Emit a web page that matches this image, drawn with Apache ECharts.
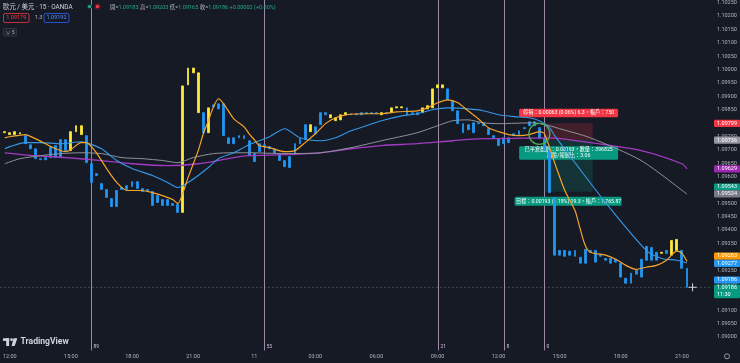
<!DOCTYPE html>
<html><head><meta charset="utf-8">
<script src="https://cdn.jsdelivr.net/npm/echarts@6/dist/echarts.min.js"></script>
<style>html,body{margin:0;padding:0;background:#161a25;overflow:hidden}#c{width:740px;height:363px}</style>
</head><body><div id="c"></div>
<script>
// ---- data ----
const startMinutes = 11 * 60 + 45; // first slot 11:45 (day 10)
const slotCount = 139;
const categories = [];
for (let k = 0; k < slotCount; k++) {
  const m = (startMinutes + 15 * k) % 1440;
  categories.push(String(Math.floor(m / 60)).padStart(2, '0') + ':' + String(m % 60).padStart(2, '0'));
}
const tickTimes = ['12:00', '15:00', '18:00', '21:00', '00:00', '03:00', '06:00', '09:00'];
const dayLabel = '11';

// [open, close, low, high]
const candles = [
[1.09764,1.09768,1.09760,1.09771],[1.09757,1.09764,1.09753,1.09768],[1.09757,1.09768,1.09753,1.09771],[1.09760,1.09764,1.09757,1.09768],
[1.09753,1.09723,1.09719,1.09760],[1.09719,1.09704,1.09697,1.09727],[1.09704,1.09667,1.09660,1.09712],[1.09667,1.09663,1.09630,1.09678],
[1.09671,1.09663,1.09637,1.09686],[1.09712,1.09671,1.09660,1.09719],[1.09716,1.09671,1.09660,1.09734],[1.09738,1.09671,1.09663,1.09745],
[1.09738,1.09697,1.09689,1.09745],[1.09697,1.09768,1.09689,1.09816],[1.09768,1.09790,1.09760,1.09812],[1.09757,1.09790,1.09749,1.09827],
[1.09753,1.09652,1.09645,1.09760],[1.09648,1.09578,1.09566,1.09656],[1.09611,1.09604,1.09574,1.09622],[1.09574,1.09552,1.09544,1.09581],
[1.09552,1.09522,1.09511,1.09585],[1.09518,1.09488,1.09473,1.09529],[1.09548,1.09488,1.09481,1.09555],[1.09559,1.09552,1.09522,1.09585],
[1.09566,1.09552,1.09544,1.09574],[1.09581,1.09563,1.09555,1.09607],[1.09581,1.09555,1.09548,1.09604],[1.09555,1.09544,1.09518,1.09563],
[1.09552,1.09544,1.09522,1.09559],[1.09544,1.09492,1.09485,1.09552],[1.09529,1.09503,1.09473,1.09537],[1.09514,1.09492,1.09470,1.09522],
[1.09514,1.09492,1.09485,1.09522],[1.09499,1.09492,1.09473,1.09507],[1.09496,1.09466,1.09417,1.09503],[1.09466,1.09939,1.09462,1.09947],
[1.09943,1.10006,1.09935,1.10058],[1.09988,1.10006,1.09902,1.10062],[1.09839,1.09988,1.09831,1.09995],[1.09839,1.09764,1.09757,1.09846],
[1.09764,1.09857,1.09757,1.09894],[1.09868,1.09861,1.09853,1.09894],[1.09872,1.09853,1.09846,1.10070],[1.09872,1.09753,1.09745,1.09880],
[1.09745,1.09723,1.09648,1.09757],[1.09745,1.09723,1.09716,1.09753],[1.09753,1.09745,1.09738,1.09790],[1.09753,1.09742,1.09734,1.09760],
[1.09734,1.09678,1.09671,1.09742],[1.09686,1.09656,1.09648,1.09697],[1.09723,1.09693,1.09686,1.09734],[1.09719,1.09712,1.09697,1.09742],
[1.09712,1.09704,1.09697,1.09719],[1.09704,1.09689,1.09682,1.09712],[1.09686,1.09660,1.09652,1.09693],[1.09660,1.09637,1.09630,1.09667],
[1.09675,1.09634,1.09626,1.09682],[1.09723,1.09682,1.09675,1.09730],[1.09742,1.09723,1.09716,1.09749],[1.09794,1.09738,1.09730,1.09801],
[1.09768,1.09794,1.09760,1.09801],[1.09786,1.09760,1.09753,1.09794],[1.09839,1.09794,1.09786,1.09853],[1.09839,1.09831,1.09824,1.09883],
[1.09820,1.09831,1.09812,1.09839],[1.09809,1.09820,1.09801,1.09835],[1.09812,1.09831,1.09805,1.09839],[1.09831,1.09839,1.09824,1.09853],
[1.09835,1.09831,1.09824,1.09842],[1.09835,1.09831,1.09790,1.09842],[1.09839,1.09831,1.09824,1.09846],[1.09839,1.09835,1.09827,1.09846],
[1.09839,1.09835,1.09827,1.09846],[1.09839,1.09835,1.09827,1.09857],[1.09831,1.09839,1.09824,1.09846],[1.09839,1.09835,1.09827,1.09846],
[1.09839,1.09857,1.09831,1.09865],[1.09857,1.09861,1.09850,1.09872],[1.09857,1.09861,1.09850,1.09868],[1.09857,1.09831,1.09824,1.09865],
[1.09839,1.09835,1.09827,1.09846],[1.09839,1.09831,1.09824,1.09846],[1.09839,1.09857,1.09831,1.09887],[1.09853,1.09865,1.09846,1.09883],
[1.09857,1.09928,1.09850,1.09935],[1.09932,1.09943,1.09924,1.09950],[1.09932,1.09943,1.09924,1.09984],[1.09928,1.09887,1.09880,1.09935],
[1.09883,1.09846,1.09839,1.09891],[1.09846,1.09798,1.09790,1.09853],[1.09798,1.09764,1.09757,1.09805],[1.09794,1.09775,1.09757,1.09809],
[1.09801,1.09764,1.09757,1.09809],[1.09801,1.09798,1.09790,1.09809],[1.09801,1.09790,1.09783,1.09809],[1.09779,1.09757,1.09749,1.09786],
[1.09753,1.09745,1.09738,1.09760],[1.09742,1.09716,1.09708,1.09749],[1.09745,1.09723,1.09716,1.09753],[1.09745,1.09727,1.09719,1.09753],
[1.09760,1.09753,1.09745,1.09768],[1.09771,1.09757,1.09749,1.09779],[1.09783,1.09779,1.09771,1.09790],[1.09805,1.09790,1.09783,1.09812],
[1.09805,1.09790,1.09783,1.09812],[1.09783,1.09742,1.09734,1.09790],[1.09742,1.09697,1.09689,1.09749],[1.09697,1.09540,1.09533,1.09704],
[1.09522,1.09306,1.09287,1.09529],[1.09324,1.09306,1.09242,1.09361],[1.09324,1.09302,1.09280,1.09343],[1.09321,1.09306,1.09276,1.09354],
[1.09324,1.09302,1.09268,1.09388],[1.09298,1.09276,1.09183,1.09306],[1.09328,1.09276,1.09239,1.09361],[1.09324,1.09317,1.09306,1.09343],
[1.09324,1.09280,1.09268,1.09350],[1.09309,1.09302,1.09294,1.09324],[1.09294,1.09287,1.09250,1.09324],[1.09294,1.09276,1.09268,1.09306],
[1.09291,1.09280,1.09272,1.09298],[1.09276,1.09224,1.09212,1.09283],[1.09220,1.09201,1.09194,1.09227],[1.09239,1.09201,1.09183,1.09250],
[1.09250,1.09235,1.09227,1.09257],[1.09291,1.09224,1.09216,1.09298],[1.09339,1.09287,1.09280,1.09347],[1.09335,1.09287,1.09261,1.09388],
[1.09317,1.09287,1.09280,1.09324],[1.09313,1.09317,1.09306,1.09324],[1.09324,1.09313,1.09306,1.09332],[1.09306,1.09361,1.09294,1.09481],
[1.09324,1.09365,1.09306,1.09428],[1.09324,1.09257,1.09250,1.09335],[1.09257,1.09186,1.09131,1.09265]
];

// moving averages: [bar index, price]
const maOrange = [[0,1.09745],[1,1.09749],[4,1.09757],[6,1.09742],[8,1.09723],[10,1.09704],[12,1.09693],[13,1.09701],[15,1.09727],[16,1.09727],[18,1.09689],[20,1.09630],[22,1.09578],[24,1.09548],[27,1.09548],[29,1.09540],[31,1.09529],[33,1.09514],[34,1.09499],[35,1.09540],[36,1.09596],[38,1.09697],[39,1.09760],[40,1.09809],[41,1.09861],[42,1.09891],[43,1.09872],[45,1.09816],[47,1.09786],[48,1.09760],[49,1.09738],[50,1.09716],[52,1.09708],[55,1.09693],[57,1.09697],[59,1.09727],[61,1.09760],[63,1.09798],[65,1.09820],[67,1.09831],[71,1.09835],[74,1.09835],[77,1.09842],[81,1.09846],[83,1.09857],[85,1.09876],[87,1.09887],[89,1.09876],[91,1.09846],[93,1.09816],[95,1.09783],[97,1.09768],[99,1.09757],[101,1.09753],[103,1.09757],[105,1.09768],[106,1.09760],[108,1.09652],[110,1.09548],[112,1.09473],[113,1.09406],[114,1.09343],[115,1.09317],[118,1.09306],[120,1.09291],[122,1.09268],[124,1.09253],[126,1.09261],[128,1.09268],[130,1.09287],[132,1.09321],[133,1.09313],[134,1.09283]];
const maBlue = [[0,1.09704],[1,1.09712],[4,1.09727],[7,1.09727],[11,1.09723],[15,1.09730],[16,1.09727],[19,1.09704],[22,1.09660],[25,1.09630],[29,1.09604],[32,1.09578],[34,1.09559],[36,1.09578],[38,1.09604],[40,1.09634],[42,1.09667],[45,1.09689],[48,1.09719],[52,1.09749],[55,1.09779],[58,1.09745],[62,1.09734],[65,1.09745],[68,1.09771],[71,1.09790],[74,1.09809],[78,1.09827],[81,1.09835],[84,1.09850],[87,1.09857],[91,1.09853],[94,1.09846],[97,1.09831],[100,1.09824],[103,1.09820],[105,1.09809],[107,1.09783],[108,1.09753],[112,1.09652],[118,1.09503],[126,1.09324],[129,1.09294],[132,1.09287],[134,1.09277]];
const maGray = [[0,1.09648],[3,1.09667],[7,1.09678],[11,1.09686],[15,1.09689],[19,1.09686],[23,1.09671],[27,1.09667],[31,1.09660],[34,1.09652],[37,1.09671],[41,1.09686],[45,1.09689],[48,1.09689],[55,1.09686],[62,1.09689],[68,1.09708],[74,1.09734],[81,1.09764],[85,1.09790],[88,1.09809],[91,1.09812],[94,1.09801],[97,1.09798],[104,1.09801],[107,1.09790],[109,1.09779],[115,1.09745],[125,1.09660],[134,1.09534]];
const maPurple = [[0,1.09689],[6,1.09678],[12,1.09671],[19,1.09660],[25,1.09648],[32,1.09641],[38,1.09648],[45,1.09671],[48,1.09678],[55,1.09682],[62,1.09689],[68,1.09704],[74,1.09716],[81,1.09723],[88,1.09734],[94,1.09742],[97,1.09742],[107,1.09745],[115,1.09727],[125,1.09697],[133,1.09648],[134,1.09629]];

// Fibonacci time zones
const fibIndex = [17, 51, 85, 98, 106];
const fibLabels = ['89', '55', '21', '8', '0'];

// short position tool
const posStart = 106, posEnd = 115, circleIndex = 105, circlePrice = 1.09760;
const stopPrice = 1.09799, entryPrice = 1.09736, targetPrice = 1.09543;
const lastClose = candles[candles.length - 1][1];
const stopText = '停損：0.00063 (0.06%) 6.3，帳戶：750';
const closedText1 = '已平倉盈虧：0.00193，數量：396825';
const closedText2 = '風險/報酬比：3.06';
const targetText = '目標：0.00193 (0.18%) 19.3，帳戶：1,765.87';

// ---- chart ----
const FONT = "Roboto, 'Noto Sans CJK TC', sans-serif";
const YEL = '#ffeb3b', BLU = '#2196f3', WICK = '#6f727c';
const chart = echarts.init(document.getElementById('c'), null, {renderer: 'canvas', width: 740, height: 363});
const gridLeft = 1, slotW = 5.1;
chart.setOption({
  backgroundColor: '#161a25',
  animation: false,
  textStyle: {fontFamily: FONT},
  grid: {left: gridLeft, right: 740 - gridLeft - slotCount * slotW, top: 0, bottom: 12.6, containLabel: false},
  xAxis: {
    type: 'category', data: categories, boundaryGap: true,
    axisLine: {show: false}, axisTick: {show: false}, splitLine: {show: false},
    axisLabel: {
      color: '#b2b5be', fontSize: 5.5, margin: 3,
      interval: (idx, v) => tickTimes.includes(v),
      formatter: v => v === '00:00' ? dayLabel : v
    }
  },
  yAxis: {
    type: 'value', position: 'right', min: 1.0895, max: 1.102559, interval: 0.0005,
    axisLine: {show: false}, axisTick: {show: false}, splitLine: {show: false},
    axisLabel: {color: '#b2b5be', fontSize: 5.5, margin: 7, showMinLabel: false, showMaxLabel: false,
      formatter: v => v.toFixed(5)}
  },
  series: [
    {type: 'candlestick', name: 'wick', barWidth: 1, z: 2,
     data: candles.map(c => [c[2], c[3], c[2], c[3]]),
     itemStyle: {color: WICK, color0: WICK, borderColor: WICK, borderColor0: WICK, borderWidth: 0}},
    {type: 'candlestick', name: 'body', barWidth: 2.4, z: 3,
     data: candles.map(c => [c[0], c[1], Math.min(c[0], c[1]), Math.max(c[0], c[1])]),
     itemStyle: {color: YEL, color0: BLU, borderColor: YEL, borderColor0: BLU, borderWidth: 0.8}},
    {type: 'line', data: maPurple, showSymbol: false, smooth: 0.25, z: 4, lineStyle: {color: '#a23bc2', width: 1.3}},
    {type: 'line', data: maGray, showSymbol: false, smooth: 0.25, z: 4, lineStyle: {color: '#8f929b', width: 1}},
    {type: 'line', data: maBlue, showSymbol: false, smooth: 0.25, z: 5, lineStyle: {color: '#3597e6', width: 1.1}},
    {type: 'line', data: maOrange, showSymbol: false, smooth: 0.25, z: 6, lineStyle: {color: '#f5a42a', width: 1.2}}
  ]
});

const xOf = i => chart.convertToPixel({xAxisIndex: 0}, i);
const yOf = p => chart.convertToPixel({yAxisIndex: 0}, p);
const G = [];
const txt = (x, y, text, fill, size, align, z, extra) => G.push(Object.assign({
  type: 'text', z: z || 1, silent: true,
  style: {x, y, text, fill, font: size + 'px ' + FONT, align: align || 'left', textAlign: align || 'left',
          verticalAlign: 'middle', textVerticalAlign: 'middle'}
}, extra || {}));
const rect = (x, y, w, h, fill, z, r, stroke) => G.push({type: 'rect', z: z || 1, silent: true,
  shape: {x, y, width: w, height: h, r: r || 0}, style: {fill, stroke: stroke || null, lineWidth: stroke ? 0.8 : 0}});
const line = (x1, y1, x2, y2, stroke, w, dash, z) => G.push({type: 'line', z: z || 1, silent: true,
  shape: {x1, y1, x2, y2}, style: {stroke, lineWidth: w || 1, lineDash: dash || null}});

const plotRight = gridLeft + slotCount * slotW;
const plotBottom = yOf(1.0895);

// fib time zones
fibIndex.forEach((fi, k) => {
  const x = Math.round(xOf(fi)) + 0.5;
  line(x, 0, x, plotBottom, '#9a8aa6', 1, null, 1);
  txt(x + 2, plotBottom - 3.5, fibLabels[k], '#cdbfd8', 5, 'left', 1);
});

// crosshair price line
const yLast = yOf(lastClose);
line(0, yLast, plotRight, yLast, 'rgba(130,133,145,0.55)', 0.8, [2, 2], 1);

// position tool
const xL = xOf(posStart), xR = xOf(posEnd) + slotW / 2, xC = (xL + xR) / 2;
const yS = yOf(stopPrice), yE = yOf(entryPrice), yT = yOf(targetPrice);
rect(xL, yS, xR - xL, yE - yS, 'rgba(242,54,69,0.2)', 0);
rect(xL, yE, xR - xL, yT - yE, 'rgba(8,153,129,0.2)', 0);
rect(xC - 49.5, yS - 14.5, 99, 8.5, '#f23645', 1, 1.5);
txt(xC, yS - 10.2, stopText, '#ffffff', 5.2, 'center', 1);
rect(xC - 49.5, yE + 6, 99, 13.5, '#089981', 1, 1.5);
txt(xC, yE + 9.6, closedText1, '#ffffff', 5.2, 'center', 1);
txt(xC, yE + 15.8, closedText2, '#ffffff', 5.2, 'center', 1);
rect(xC - 54, yT + 5, 107, 9, '#089981', 1, 1.5);
txt(xC, yT + 9.6, targetText, '#ffffff', 5.2, 'center', 1);
G.push({type: 'circle', z: 20, silent: true, shape: {cx: xOf(circleIndex), cy: yOf(circlePrice), r: 10.5},
  style: {fill: null, stroke: '#4caf50', lineWidth: 1.3}});

// cursor cross
const xCur = xOf(candles.length) + 0.5;
line(xCur - 4, yLast, xCur + 4, yLast, '#d1d4dc', 1, null, 30);
line(xCur, yLast - 4, xCur, yLast + 4, '#d1d4dc', 1, null, 30);

// price scale tags
const tags = [
  {p: stopPrice, c: '#f23645', d: 0},
  {p: entryPrice, c: '#9598a1', d: 0},
  {p: maPurple[maPurple.length - 1][1], c: '#9c27b0', d: 0},
  {p: targetPrice, c: '#089981', d: -4.8},
  {p: maGray[maGray.length - 1][1], c: '#787b86', d: -0.4},
  {p: maOrange[maOrange.length - 1][1], c: '#ff9800', d: -5.3},
  {p: maBlue[maBlue.length - 1][1], c: '#2196f3', d: 0.5},
  {p: lastClose, c: '#2196f3', d: -7.3}
];
tags.forEach(t => {
  const y = yOf(t.p) + t.d;
  rect(714, y - 3.6, 26, 7.2, t.c, 50, 1);
  txt(717, y, t.p.toFixed(5), '#ffffff', 5.5, 'left', 51);
});
{
  const y = yOf(lastClose) + 0.7;
  rect(714, y - 3.6, 26, 13.8, '#089981', 50, 1);
  txt(717, y, lastClose.toFixed(5), '#ffffff', 5.5, 'left', 51);
  txt(717, y + 6.4, '11:30', '#ffffff', 5.5, 'left', 51);
}

// header
txt(3, 7.3, '歐元 / 美元 · 15 · OANDA', '#d1d4dc', 6.4, 'left', 60);
G.push({type: 'circle', z: 60, silent: true, shape: {cx: 89.5, cy: 6.5, r: 2.6}, style: {fill: '#123b34'}});
G.push({type: 'circle', z: 61, silent: true, shape: {cx: 89.5, cy: 6.5, r: 1.6}, style: {fill: '#22ab94'}});
G.push({type: 'circle', z: 60, silent: true, shape: {cx: 97.5, cy: 6.5, r: 3.2}, style: {fill: '#4a1c25'}});
G.push({type: 'circle', z: 61, silent: true, shape: {cx: 97.5, cy: 6.5, r: 1.7}, style: {fill: '#f23645'}});
G.push({type: 'text', z: 60, silent: true, style: {
  x: 110, y: 7.3, verticalAlign: 'middle', textVerticalAlign: 'middle', font: '5.5px ' + FONT,
  text: '{l|開=}{v|1.09183} {l|高=}{v|1.09203} {l|低=}{v|1.09165} {l|收=}{v|1.09186} {v|+0.00002 (+0.00%)}',
  rich: {l: {fill: '#b2b5be', fontSize: 5.5, fontFamily: FONT}, v: {fill: '#22ab94', fontSize: 5.5, fontFamily: FONT}}
}});
rect(3.5, 13.5, 25.5, 9, 'rgba(0,0,0,0)', 60, 1.5, '#f23645');
txt(16.25, 18, '1.09179', '#f23645', 5.5, 'center', 61);
txt(38.5, 18, '1.3', '#b2b5be', 5.5, 'center', 61);
rect(44, 13.5, 25, 9, 'rgba(0,0,0,0)', 60, 1.5, '#2962ff');
txt(56.5, 18, '1.09192', '#5b8cff', 5.5, 'center', 61);
rect(3.5, 28.5, 13, 7.5, '#1e222d', 60, 1.5, '#363a45');
txt(10, 32.3, '∨ 5', '#b2b5be', 5, 'center', 61);

// TradingView logo
rect(3, 338.3, 6.2, 2.6, '#d1d4dc', 60);
rect(6.2, 338.3, 2.9, 7.7, '#d1d4dc', 60);
G.push({type: 'circle', z: 60, silent: true, shape: {cx: 11.6, cy: 339.7, r: 1.4}, style: {fill: '#d1d4dc'}});
G.push({type: 'polygon', z: 60, silent: true, shape: {points: [[13.6, 338.3], [17.4, 338.3], [14.6, 346], [11.6, 346]]}, style: {fill: '#d1d4dc'}});
txt(20.5, 342.3, 'TradingView', '#d1d4dc', 8.6, 'left', 60, {});
G[G.length - 1].style.font = 'bold 8.6px ' + FONT;

// settings icon
G.push({type: 'circle', z: 60, silent: true, shape: {cx: 727, cy: 356.3, r: 2.5}, style: {fill: null, stroke: '#b2b5be', lineWidth: 0.8}});

chart.setOption({graphic: {elements: G}});
</script>
</body></html>
